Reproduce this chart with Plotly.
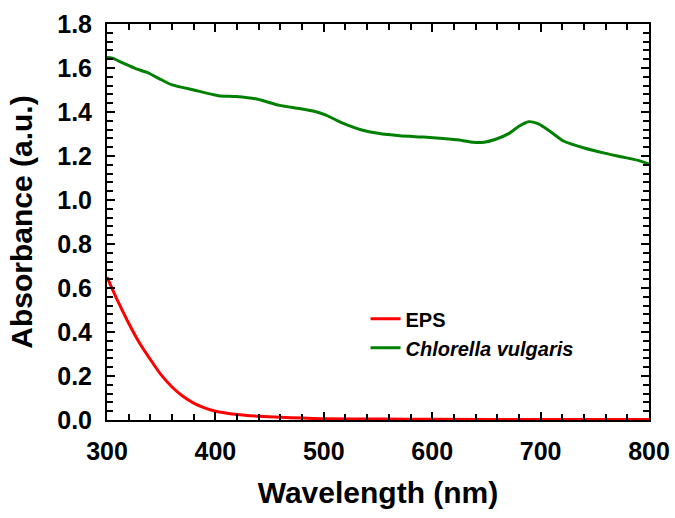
import plotly.graph_objects as go

# Chlorella vulgaris absorbance
cv_wl = [300, 305, 315, 327, 337, 348, 360, 380, 403, 419, 439, 459, 480, 492, 502, 512, 522, 535, 550, 570, 592, 610, 625, 638, 648, 658, 671, 680, 689, 697, 704, 712, 721, 741, 760, 774, 790, 800]
cv_abs = [1.648, 1.645, 1.622, 1.596, 1.580, 1.552, 1.523, 1.500, 1.474, 1.470, 1.458, 1.430, 1.414, 1.402, 1.386, 1.362, 1.340, 1.318, 1.303, 1.292, 1.286, 1.280, 1.273, 1.262, 1.263, 1.275, 1.303, 1.335, 1.356, 1.348, 1.328, 1.300, 1.268, 1.235, 1.212, 1.197, 1.180, 1.163]

# EPS absorbance
eps_wl = [300, 310, 320, 330, 340, 350, 360, 370, 380, 390, 400, 420, 440, 460, 480, 500, 550, 600, 700, 800]
eps_abs = [0.650, 0.540, 0.440, 0.350, 0.275, 0.205, 0.150, 0.108, 0.077, 0.055, 0.040, 0.025, 0.017, 0.012, 0.009, 0.006, 0.004, 0.003, 0.002, 0.002]

x_ticks = [300, 400, 500, 600, 700, 800]
y_ticks = [0.0, 0.2, 0.4, 0.6, 0.8, 1.0, 1.2, 1.4, 1.6, 1.8]

FONT = "Liberation Sans"

fig = go.Figure()
fig.add_trace(go.Scatter(x=eps_wl, y=eps_abs, mode="lines", name="<b>EPS</b>",
                         line=dict(color="#ff0000", width=3, shape="spline", smoothing=0.8)))
fig.add_trace(go.Scatter(x=cv_wl, y=cv_abs, mode="lines", name="<b><i>Chlorella vulgaris</i></b>",
                         line=dict(color="#008000", width=3, shape="spline", smoothing=0.6)))

axis_common = dict(
    showgrid=False, zeroline=False, showline=True, linecolor="black", linewidth=2,
    mirror="allticks", ticks="inside", ticklen=8, tickwidth=2, tickcolor="black",
    ticklabelstandoff=8, automargin=False,
    tickfont=dict(family=FONT, size=25, color="black", weight="bold"),
)

fig.update_xaxes(
    range=[300, 800], tickvals=x_ticks, ticktext=[str(v) for v in x_ticks],
    minor=dict(dtick=20, ticks="inside", ticklen=6, tickwidth=2, tickcolor="black"),
    title=dict(text="<b>Wavelength (nm)</b>", font=dict(family=FONT, size=30, color="black"), standoff=18),
    **axis_common,
)
fig.update_yaxes(
    range=[0, 1.8], tickvals=y_ticks, ticktext=[f"{v:.1f}" for v in y_ticks],
    minor=dict(dtick=0.04, tick0=0, ticks="inside", ticklen=6, tickwidth=2, tickcolor="black"),
    title=dict(text="<b>Absorbance (a.u.)</b>", font=dict(family=FONT, size=30, color="black"), standoff=16),
    **axis_common,
)

fig.update_layout(
    width=675, height=518,
    margin=dict(l=107, r=26, t=24, b=98),
    plot_bgcolor="white", paper_bgcolor="white",
    showlegend=True,
    legend=dict(x=0.477, y=0.305, xanchor="left", yanchor="top",
                bgcolor="rgba(0,0,0,0)", font=dict(family=FONT, size=20, color="black"),
                tracegroupgap=4),
)

fig.write_html("out.html")
